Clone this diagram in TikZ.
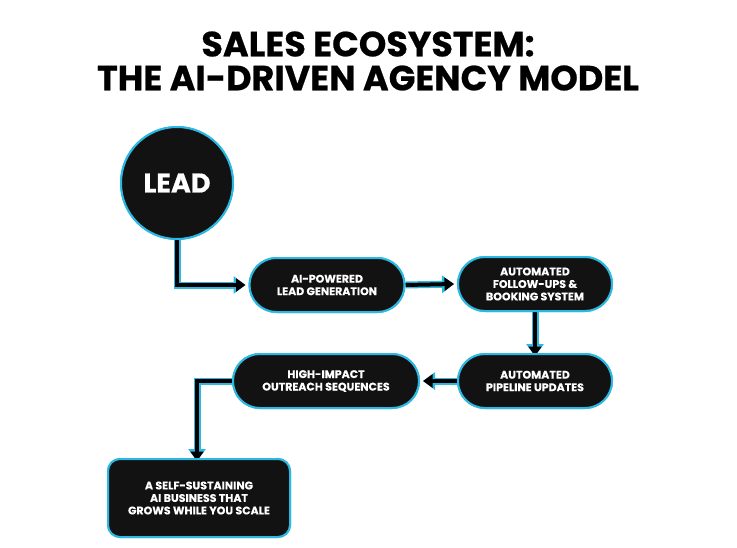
\documentclass[tikz,border=0pt]{standalone}
\usepackage{fontspec}
\setmainfont{Poppins}
\newfontface\heavyfont{Poppins Bold}[FakeBold=0.6]
\newfontface\boxfont{Poppins Bold}[FakeBold=0.3]
\usetikzlibrary{arrows.meta,positioning}
\definecolor{glow}{HTML}{2BB8E3}
\definecolor{boxfill}{HTML}{121212}
\tikzset{
  pill/.style={draw=glow, line width=2pt, fill=boxfill, rounded corners=27pt, minimum width=#1, minimum height=54pt, align=center, text=white, font=\boxfont\fontsize{11}{12.5}\selectfont, inner sep=2pt},
  sqbox/.style={draw=glow, line width=2pt, fill=boxfill, rounded corners=12pt, minimum width=182pt, minimum height=78pt, align=center, text=white, font=\boxfont\fontsize{11}{12.5}\selectfont},
  circ/.style={circle, draw=glow, line width=2pt, fill=boxfill, minimum size=112pt, text=white, font=\heavyfont\fontsize{27}{30}\selectfont},
  glowline/.style={glow, line width=7pt, -{Triangle[length=12pt,width=17pt]}},
  coreline/.style={black, line width=4pt, -{Triangle[length=9.5pt,width=13pt]}},
  title/.style={font=\heavyfont\fontsize{35}{34}\selectfont, text=black, align=center}
}
\begin{document}
\begin{tikzpicture}[x=1pt,y=-1pt]
\useasboundingbox (0,0) rectangle (737,547);
\fill[white] (0,0) rectangle (737,547);
\node[title] (t) at (368,61) {SALES ECOSYSTEM:\\THE AI-DRIVEN AGENCY MODEL};
\node[circ] (lead) at (177,183) {LEAD};
\node[pill=155pt] (b1) at (327,285) {AI-POWERED\\LEAD GENERATION};
\node[pill=154pt] (b2) at (535,284) {AUTOMATED\\FOLLOW-UPS \&\\BOOKING SYSTEM};
\node[pill=154pt] (b3) at (535,381) {AUTOMATED\\PIPELINE UPDATES};
\node[pill=186pt] (b4) at (326,381) {HIGH-IMPACT\\OUTREACH SEQUENCES};
\node[sqbox] (b5) at (199,498) {A SELF-SUSTAINING\\AI BUSINESS THAT\\GROWS WHILE YOU SCALE};
\coordinate (c1) at (lead.south |- b1.west);
\coordinate (c2) at (b5.north -| 197,0);
\coordinate (c3) at (197,381);
\foreach \s in {glowline,coreline}{
  \draw[\s] (lead.south) -- (c1) -- ([xshift=-3pt]b1.west);
  \draw[\s] (b1.east) -- ([xshift=-3pt]b2.west);
  \draw[\s] (b2.south) -- ([yshift=-3pt]b3.north);
  \draw[\s] (b3.west) -- ([xshift=3pt]b4.east);
  \draw[\s] (b4.west) -- (c3) -- ([yshift=-3pt]c2);
}
\node[circ] at (lead) {LEAD};
\node[pill=155pt] at (b1) {AI-POWERED\\LEAD GENERATION};
\node[pill=154pt] at (b2) {AUTOMATED\\FOLLOW-UPS \&\\BOOKING SYSTEM};
\node[pill=154pt] at (b3) {AUTOMATED\\PIPELINE UPDATES};
\node[pill=186pt] at (b4) {HIGH-IMPACT\\OUTREACH SEQUENCES};
\node[sqbox] at (b5) {A SELF-SUSTAINING\\AI BUSINESS THAT\\GROWS WHILE YOU SCALE};
\end{tikzpicture}
\end{document}
